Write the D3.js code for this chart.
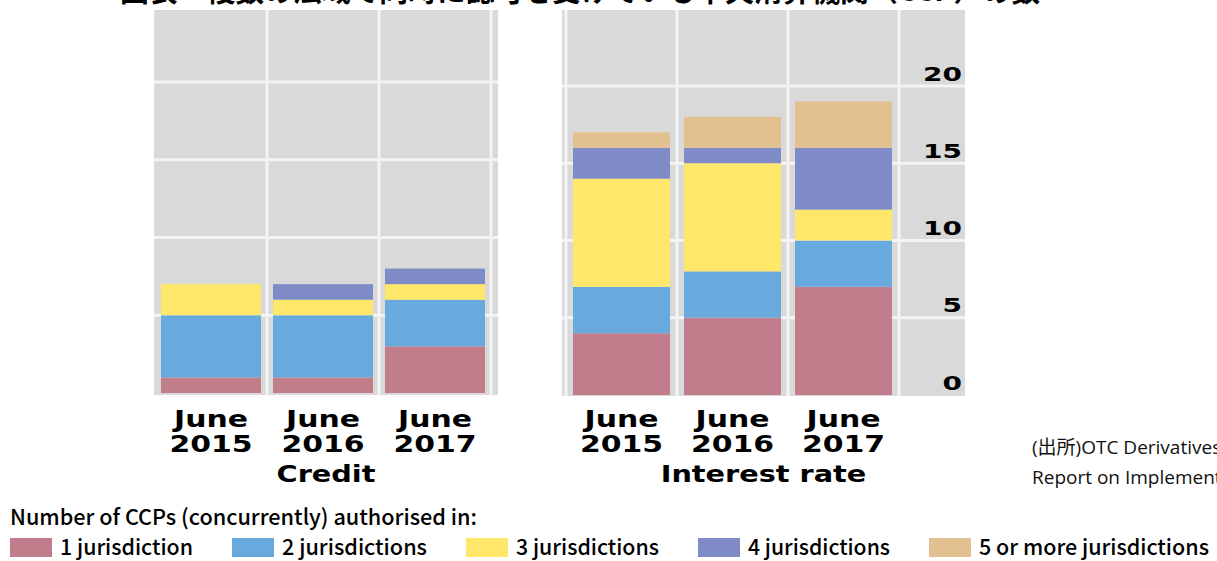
<!DOCTYPE html>
<html><head><meta charset="utf-8">
<script src="https://cdn.jsdelivr.net/npm/d3@7"></script>
<style>
html,body{margin:0;padding:0;background:#fff;}
svg{display:block;}
</style></head>
<body>
<svg id="chart" width="1217" height="561"></svg>
<script>
// ---- data ----
const categories = ["June 2015", "June 2016", "June 2017"];
const seriesNames = ["1 jurisdiction", "2 jurisdictions", "3 jurisdictions", "4 jurisdictions", "5 or more jurisdictions"];
const seriesColors = ["#C17D8C", "#68A9DE", "#FFE76A", "#7F8BC6", "#E2C08F"];
const creditOne   = [1, 1, 3];
const creditTwo   = [4, 4, 3];
const creditThree = [2, 1, 1];
const creditFour  = [0, 1, 1];
const creditFive  = [0, 0, 0];
const rateOne   = [4, 5, 7];
const rateTwo   = [3, 3, 3];
const rateThree = [7, 7, 2];
const rateFour  = [2, 1, 4];
const rateFive  = [1, 2, 3];
const yTicks = [0, 5, 10, 15, 20];
const panelTitles = ["Credit", "Interest rate"];
const legendTitle = "Number of CCPs (concurrently) authorised in:";
const sourceLines = ["(出所)OTC Derivatives Market Reforms: Twelfth Progress", "Report on Implementation"];
const chartTitle = "図表　複数の法域で同時に認可を受けている中央清算機関（CCP）の数";

// ---- build rows ----
function rows(a, b, c, d, e) {
  return categories.map((cat, i) => {
    const r = {cat};
    [a, b, c, d, e].forEach((arr, k) => r[seriesNames[k]] = arr[i]);
    return r;
  });
}
const creditRows = rows(creditOne, creditTwo, creditThree, creditFour, creditFive);
const rateRows = rows(rateOne, rateTwo, rateThree, rateFour, rateFive);
const stack = d3.stack().keys(seriesNames);
const color = d3.scaleOrdinal().domain(seriesNames).range(seriesColors);

const svg = d3.select("#chart");
const GRAY = "#D9D9D9", LINE = "#F4F4F4";

// cut-off title at the very top
svg.append("text")
  .attr("x", 580).attr("y", 1)
  .attr("text-anchor", "middle")
  .attr("textLength", 920).attr("lengthAdjust", "spacingAndGlyphs")
  .style("font-family", "'Noto Sans CJK JP'").style("font-weight", 700)
  .style("font-size", "30px").attr("fill", "#000")
  .text(chartTitle);

const panels = [
  {rows: creditRows, title: panelTitles[0], gx0: 154, gx1: 498, gy0: 10, gy1: 395,
   xr: [155, 491], pi: 0.107, yr: [393, 82], lineBefore: false, axis: false},
  {rows: rateRows, title: panelTitles[1], gx0: 562, gx1: 965, gy0: 10, gy1: 396,
   xr: [566, 899], pi: 0.126, yr: [395, 86], lineBefore: true, axis: true}
];

panels.forEach(p => {
  const x = d3.scaleBand().domain(categories).range(p.xr).paddingInner(p.pi).paddingOuter(p.pi / 2);
  const y = d3.scaleLinear().domain([0, 20]).range(p.yr);
  const g = svg.append("g");
  g.append("rect").attr("x", p.gx0).attr("y", p.gy0)
    .attr("width", p.gx1 - p.gx0).attr("height", p.gy1 - p.gy0).attr("fill", GRAY);
  // horizontal grid
  g.selectAll("line.h").data(yTicks.filter(v => v > 0)).join("line")
    .attr("x1", p.gx0).attr("x2", p.gx1)
    .attr("y1", d => y(d)).attr("y2", d => y(d))
    .attr("stroke", LINE).attr("stroke-width", 3);
  // vertical separators
  const half = x.step() * x.paddingInner() / 2;
  const vx = categories.map(c => x(c) + x.bandwidth() + half);
  if (p.lineBefore) vx.unshift(x(categories[0]) - half);
  g.selectAll("line.v").data(vx).join("line")
    .attr("x1", d => d).attr("x2", d => d)
    .attr("y1", p.gy0).attr("y2", p.gy1)
    .attr("stroke", LINE).attr("stroke-width", 3);
  // bars
  const series = stack(p.rows);
  g.selectAll("g.s").data(series).join("g")
    .attr("fill", d => color(d.key))
    .selectAll("rect").data(d => d).join("rect")
    .attr("x", d => x(d.data.cat))
    .attr("width", x.bandwidth())
    .attr("y", d => y(d[1]))
    .attr("height", d => y(d[0]) - y(d[1]));
  // x axis (two-line labels)
  const xa = svg.append("g").attr("transform", `translate(0,427)`)
    .call(d3.axisBottom(x).tickSize(0).tickPadding(0));
  xa.select(".domain").remove();
  xa.selectAll(".tick text").each(function(d) {
    const t = d3.select(this);
    const parts = d.split(" ");
    t.text(null).attr("y", 0).attr("dy", null)
      .attr("text-anchor", "middle")
      .attr("transform", "scale(1.3,1)")
      .style("font-family", "'DejaVu Sans'").style("font-weight", "bold")
      .style("font-size", "23px").attr("fill", "#000");
    t.append("tspan").attr("x", 0).attr("dy", 0).text(parts[0]);
    t.append("tspan").attr("x", 0).attr("dy", 25).text(parts[1]);
  });
  // panel title
  svg.append("text")
    .attr("transform", `translate(${(p.gx0 + p.gx1) / 2},482) scale(1.25,1)`)
    .attr("text-anchor", "middle")
    .style("font-family", "'DejaVu Sans'").style("font-weight", "bold")
    .style("font-size", "23px").attr("fill", "#000")
    .text(p.title);
  // y axis labels
  if (p.axis) {
    const ya = svg.append("g").attr("transform", `translate(962,0)`)
      .call(d3.axisLeft(y).tickValues(yTicks).tickSize(0).tickPadding(0));
    ya.select(".domain").remove();
    ya.selectAll(".tick text")
      .attr("x", 0).attr("dy", -6)
      .attr("text-anchor", "end")
      .attr("transform", "scale(1.4,1)")
      .style("font-family", "'DejaVu Sans'").style("font-weight", "bold")
      .style("font-size", "20px").attr("fill", "#000");
  }
});

// source note
svg.selectAll("text.src").data(sourceLines).join("text")
  .attr("class", "src")
  .attr("x", 1032).attr("y", (d, i) => 454 + i * 30)
  .style("font-family", "'Open Sans','Noto Sans CJK JP'").style("font-size", "19px")
  .attr("fill", "#111").text(d => d);

// legend
const legendTextWidths = [133, 145, 143, 142, 230];
svg.append("text").attr("x", 10).attr("y", 525)
  .attr("textLength", 467).attr("lengthAdjust", "spacingAndGlyphs")
  .style("font-family", "'Noto Sans CJK JP'").style("font-weight", 500)
  .style("font-size", "22px").attr("fill", "#000")
  .text(legendTitle);
let lx = 10;
seriesNames.forEach((name, i) => {
  svg.append("rect").attr("x", lx).attr("y", 538).attr("width", 42).attr("height", 19)
    .attr("fill", color(name));
  svg.append("text").attr("x", lx + 50).attr("y", 555)
    .attr("textLength", legendTextWidths[i]).attr("lengthAdjust", "spacingAndGlyphs")
    .style("font-family", "'Noto Sans CJK JP'").style("font-weight", 500)
    .style("font-size", "22px").attr("fill", "#000")
    .text(name);
  lx += 50 + legendTextWidths[i] + 39;
});
</script>
</body></html>
